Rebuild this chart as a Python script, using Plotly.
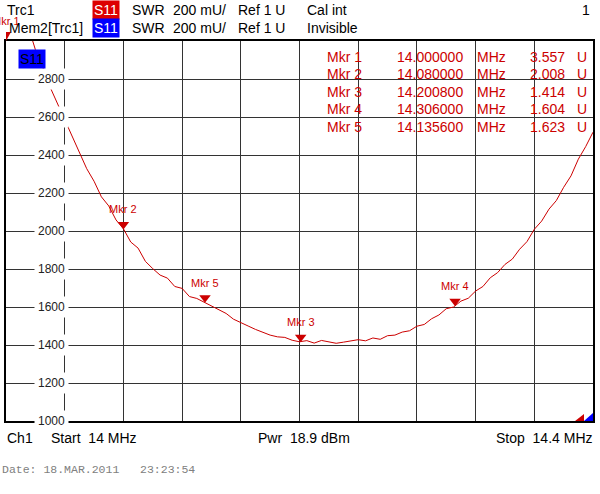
import plotly.graph_objects as go

# sweep 14 .. 14.4 MHz, SWR in mU
freq_mhz = [
    14.000, 14.005, 14.010, 14.015, 14.020, 14.025, 14.030, 14.035, 14.040, 14.045,
    14.050, 14.055, 14.060, 14.065, 14.070, 14.075, 14.080, 14.085, 14.090, 14.095,
    14.100, 14.105, 14.110, 14.115, 14.120, 14.125, 14.130, 14.135, 14.140, 14.145,
    14.150, 14.155, 14.160, 14.165, 14.170, 14.175, 14.180, 14.185, 14.190, 14.195,
    14.200, 14.205, 14.210, 14.215, 14.220, 14.225, 14.230, 14.235, 14.240, 14.245,
    14.250, 14.255, 14.260, 14.265, 14.270, 14.275, 14.280, 14.285, 14.290, 14.295,
    14.300, 14.305, 14.310, 14.315, 14.320, 14.325, 14.330, 14.335, 14.340, 14.345,
    14.350, 14.355, 14.360, 14.365, 14.370, 14.375, 14.380, 14.385, 14.390, 14.395,
    14.400,
]
swr_mu = [
    3557, 3390, 3235, 3080, 2955, 2862, 2758, 2672, 2580, 2498,
    2405, 2328, 2262, 2180, 2132, 2058, 2012, 1942, 1910, 1840,
    1802, 1768, 1752, 1708, 1698, 1655, 1645, 1625, 1608, 1586,
    1566, 1536, 1520, 1500, 1482, 1466, 1452, 1443, 1440, 1425,
    1417, 1423, 1410, 1424, 1416, 1409, 1415, 1420, 1428, 1422,
    1437, 1430, 1449, 1452, 1468, 1475, 1499, 1508, 1538, 1558,
    1591, 1600, 1631, 1646, 1684, 1708, 1754, 1781, 1824, 1852,
    1904, 1944, 2009, 2052, 2115, 2160, 2230, 2290, 2378, 2444,
    2520,
]

mkr_names = ["Mkr 1", "Mkr 2", "Mkr 3", "Mkr 4", "Mkr 5"]
mkr_freq = [14.000000, 14.080000, 14.200800, 14.306000, 14.135600]
mkr_swr = [3.557, 2.008, 1.414, 1.604, 1.623]

y_ticks = [1000, 1200, 1400, 1600, 1800, 2000, 2200, 2400, 2600, 2800]

RED = "#cc0000"
FONT = "Liberation Sans, Arial, sans-serif"
Y_TOP = 3000

# plot area in pixels: x 6..595, y 41..421
L, R, T, B = 6, 595, 41, 421


def px(x):
    return (x - L) / (R - L)


def py(y):
    return (B - y) / (B - T)


fig = go.Figure()
fig.add_trace(go.Scatter(x=freq_mhz, y=swr_mu, mode="lines",
                         line=dict(color=RED, width=1), hoverinfo="skip"))

# marker triangles, tip on the trace
mu_per_px = 2000 / (B - T)
mhz_per_px = 0.4 / (R - L)
on_f = [f for f, v in zip(mkr_freq, mkr_swr) if v * 1000 <= Y_TOP]
on_y = [v * 1000 + 5 * mu_per_px for v in mkr_swr if v * 1000 <= Y_TOP]
fig.add_trace(go.Scatter(x=on_f, y=on_y, mode="markers",
                         marker=dict(symbol="triangle-down", size=10, color=RED),
                         hoverinfo="skip"))

shapes = []
# off-scale markers sit on top of the frame
for f, v in zip(mkr_freq, mkr_swr):
    if v * 1000 > Y_TOP:
        shapes.append(dict(
            type="path", xref="x", yref="paper",
            path=(f"M {f - 5 * mhz_per_px} {py(32)} L {f + 5 * mhz_per_px} {py(32)} "
                  f"L {f} {py(41)} Z"),
            fillcolor=RED, line=dict(width=0)))

ann = []
for name, f, v in zip(mkr_names, mkr_freq, mkr_swr):
    ann.append(dict(x=f, y=min(v * 1000, Y_TOP), text=name, showarrow=False,
                    yanchor="bottom", yshift=12, font=dict(size=11, color=RED)))

# y labels drawn inside the grid, breaking the lines
for v in y_ticks:
    ann.append(dict(xref="paper", x=px(34.5), y=v, text=str(v), showarrow=False,
                    bgcolor="white", borderpad=3, font=dict(size=12, color="#222")))


# header / footer texts placed in screen pixels
def txt(x, y, s, color="black", anchor="left", size=14, bg=None, fam=FONT, pad=1):
    ann.append(dict(xref="paper", yref="paper", x=px(x), y=py(y), text=s,
                    showarrow=False, xanchor=anchor, yanchor="middle",
                    bgcolor=bg, borderpad=pad,
                    font=dict(size=size, color=color, family=fam)))


txt(5, 10, "Trc1")
txt(92, 10, "S11", color="white", bg="#dd0000")
txt(130, 10, "SWR")
txt(172, 10, "200 mU/")
txt(237, 10, "Ref 1 U")
txt(306, 10, "Cal int")
txt(594, 10, "1", anchor="right")
txt(7, 28, "Mem2[Trc1]")
txt(92, 28, "S11", color="white", bg="#0000ff")
txt(130, 28, "SWR")
txt(172, 28, "200 mU/")
txt(237, 28, "Ref 1 U")
txt(306, 28, "Invisible")
txt(18, 59, "S11", color="black", bg="#0000ff")

# marker table
for i, (name, f, v) in enumerate(zip(mkr_names, mkr_freq, mkr_swr)):
    yy = 57 + i * 17.4
    txt(365, yy, name, color=RED, anchor="right")
    txt(467, yy, f"{f:.6f}", color=RED, anchor="right")
    txt(477, yy, "MHz", color=RED)
    txt(569, yy, f"{v:.3f}", color=RED, anchor="right")
    txt(577, yy, "U", color=RED)

txt(5, 438, "Ch1")
txt(49, 438, "Start  14 MHz")
txt(305, 438, "Pwr  18.9 dBm", anchor="center")
txt(597, 438, "Stop  14.4 MHz", anchor="right")
txt(0, 469, "Date: 18.MAR.2011   23:23:54", color="#808080", size=11.5,
    fam="Liberation Mono, Courier New, monospace")

# small trace-colour flags in the lower right corner
shapes += [
    dict(type="path", xref="paper", yref="paper",
         path=f"M {px(577)} {py(421)} L {px(586)} {py(421)} L {px(586)} {py(414)} Z",
         fillcolor="#cc0000", line=dict(width=0)),
    dict(type="path", xref="paper", yref="paper",
         path=f"M {px(586)} {py(421)} L {px(595)} {py(421)} L {px(595)} {py(413)} Z",
         fillcolor="#0000ff", line=dict(width=0)),
]

fig.update_layout(
    width=600, height=494,
    margin=dict(l=L, r=600 - R, t=T, b=494 - B),
    paper_bgcolor="white", plot_bgcolor="white",
    showlegend=False,
    font=dict(family=FONT),
    annotations=ann,
    shapes=shapes,
    xaxis=dict(range=[14.0, 14.4], tick0=14.0, dtick=0.04, showticklabels=False,
               ticks="", showgrid=True, gridcolor="#333", gridwidth=1.2,
               zeroline=False, showline=True, linecolor="black", linewidth=1.5,
               mirror=True),
    yaxis=dict(range=[1000, Y_TOP], tick0=1000, dtick=200, showticklabels=False,
               ticks="", showgrid=True, gridcolor="#333", gridwidth=1.2,
               zeroline=False, showline=True, linecolor="black", linewidth=1.5,
               mirror=True),
)

# page has a default 8px body margin; drop it so the figure sits at 0,0
fig.write_html("out.html", config={"displayModeBar": False},
               post_script="document.body.style.margin='0';")
